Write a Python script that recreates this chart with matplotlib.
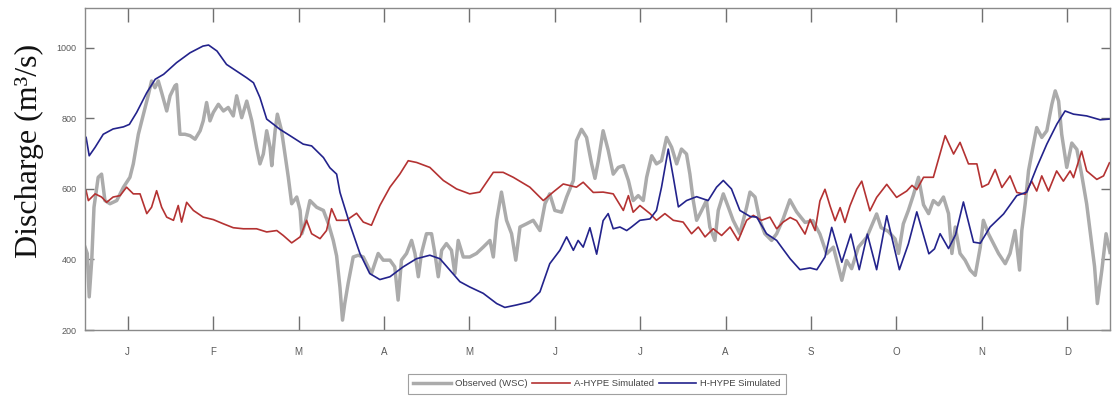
import matplotlib
matplotlib.use("Agg")
import matplotlib.pyplot as plt
import numpy as np

# ---------------- data (day of year, discharge m3/s) ----------------
month_labels = ["J", "F", "M", "A", "M", "J", "J", "A", "S", "O", "N", "D"]
y_ticks = [200, 400, 600, 800, 1000]

obs_day = [0, 0.8, 1.5, 2.4, 3.2, 4.7, 5.9, 7.1, 8.9, 11.3, 13.7, 16, 17.2, 19, 20.8, 22.6,
           23.7, 24.9, 26.1, 27.3, 29.1, 30.3, 32, 32.6, 33.8, 35.6, 37.4, 39.2, 41, 42.1,
           43.3, 44.5, 45.7, 47.5, 49.3, 51, 52.8, 54, 55.8, 57.6, 59.4, 61.1, 62.3, 63.5,
           64.7, 65.9, 66.5, 67.7, 68.5, 70, 71.2, 72.4, 73.6, 75.4, 76.6, 77.2, 78.3, 80.1,
           82.5, 84.9, 86.7, 88.4, 89.6, 90.8, 91.7, 92.5, 93.7, 95.5, 97.3, 99.1, 102, 104.4,
           106.2, 108.6, 110.3, 111.5, 112.7, 114.5, 116.3, 117.5, 118.7, 119.8, 121.6, 123.4,
           124.6, 125.8, 127, 128.7, 130.5, 131.7, 132.9, 134.7, 137, 139.4, 141.8, 144.2,
           145.4, 146.6, 148.3, 150.1, 151.9, 153.4, 154.9, 157.2, 159.6, 162, 163.8, 165.5,
           167.3, 169.7, 171.5, 173.9, 175, 176.8, 178.6, 180.4, 181.6, 182.8, 184.5, 186.3,
           188.1, 189.9, 191.7, 193.5, 195.2, 197, 198.8, 200, 201.8, 203.5, 205.3, 207.1,
           208.9, 210.7, 212.4, 214.2, 215.4, 216.6, 217.8, 219.6, 221.3, 222.5, 224.3, 225.5,
           227.3, 229.1, 230.8, 233.2, 235.6, 236.8, 238.6, 240.3, 242.1, 244.5, 246.3, 248.6,
           251, 253.4, 256.4, 259.2, 261.7, 264.1, 266.5, 269.5, 271.2, 273, 275.4, 278.4,
           281.9, 283.5, 286, 288.5, 289.7, 291.4, 293.2, 295, 296.8, 298.6, 300.4, 302.1,
           303.9, 305.7, 307.5, 308.7, 309.9, 311.6, 313.4, 315.2, 317, 318.8, 319.9, 321.7,
           323.5, 325.3, 327.7, 329.4, 331.2, 332.8, 333.6, 334.8, 336, 337.1, 338.9, 340.7,
           342.5, 344.3, 345.5, 346.7, 347.8, 349.6, 351.4, 353.2, 354.9, 356.7, 358.5, 359.5,
           360.5, 362.1, 363.6, 365]
obs_val = [435, 417, 294, 398, 548, 633, 642, 567, 558, 567, 605, 633, 671, 755, 812, 868,
           906, 887, 906, 873, 821, 864, 892, 896, 755, 755, 751, 741, 765, 793,
           845, 793, 817, 840, 821, 831, 807, 864, 802, 849, 793, 718, 671, 699,
           765, 718, 666, 765, 812, 765, 699, 633, 558, 577, 539, 473, 501, 567,
           548, 539, 501, 454, 410, 320, 228, 275, 332, 407, 412, 407, 360, 417,
           398, 398, 379, 285, 398, 417, 454, 417, 351, 417, 473, 473,
           417, 351, 426, 445, 426, 360, 454, 407, 407, 417, 435, 454,
           407, 511, 591, 511, 473, 398, 492, 501, 511, 482, 558, 586,
           539, 534, 577, 624, 737, 769, 746, 671, 630, 680, 765, 710,
           642, 661, 666, 624, 567, 581, 567, 633, 694, 671, 680, 746,
           718, 671, 713, 699, 642, 567, 511, 539, 567, 492, 454, 539,
           586, 548, 511, 473, 548, 591, 577, 511, 473, 454, 473, 515,
           569, 535, 505, 510, 472, 416, 435, 341, 397, 374, 435, 463,
           529, 490, 480, 458, 417, 501, 539, 583, 633, 555, 530, 567,
           555, 577, 530, 417, 492, 417, 398, 370, 355, 435, 511, 473,
           445, 417, 388, 417, 482, 370, 482, 558, 652, 699, 774, 746,
           765, 840, 878, 849, 755, 661, 730, 712, 641, 557, 444, 380,
           275, 370, 473, 420]

ahype_day = [0.4, 1.2, 3.6, 5.9, 7.7, 10, 12.5, 14.8, 17.2, 19.6, 22, 23.7, 25.5, 27.3, 29.1,
             31.5, 33.2, 34.4, 36.2, 38.6, 42.1, 45.7, 49.3, 52.8, 56.4, 61.1, 64.7, 68.3,
             70.6, 73.6, 76.6, 78.9, 80.7, 83.7, 86, 87.8, 89.6, 93.1, 96.7, 99.1, 102, 105,
             108.6, 112.1, 115.1, 118.1, 122.8, 127.6, 132.3, 137, 140.6, 145.4, 148.9, 152.5,
             158.4, 163.2, 166.7, 170.3, 175, 177.4, 181, 184.5, 188.1, 191.7, 193.5, 195.2,
             197.6, 201.2, 203.5, 206.5, 209.5, 213, 216, 218.4, 220.8, 223.7, 226.7, 229.7,
             232.6, 235.6, 238, 240.9, 243.9, 246.3, 248.6, 251.1, 253.4, 256.4, 258.2, 260,
             261.7, 263.5, 265.3, 267.1, 268.9, 270.6, 272.4, 274.8, 276.6, 279.5, 281.9,
             285.5, 289, 292.6, 294.5, 296.2, 298.6, 302.1, 306.3, 309.3, 311.6, 314.6, 317.6,
             319.4, 321.7, 324.1, 326.5, 329.4, 331.8, 334.8, 337.1, 338.9, 340.7, 343.1, 346,
             348.4, 350.8, 352, 354.9, 356.7, 360.3, 362.7, 364.8]
ahype_val = [595, 567, 586, 577, 562, 577, 581, 605, 586, 586, 530, 548, 595, 548, 520,
             511, 553, 506, 562, 539, 520, 513, 501, 490, 487, 487, 478, 482,
             468, 447, 464, 511, 473, 459, 482, 544, 511, 511, 531, 506, 497, 553,
             605, 642, 680, 675, 661, 624, 600, 586, 591, 647, 647, 633,
             605, 567, 591, 614, 605, 619, 590, 591, 586, 539, 581, 534,
             553, 530, 511, 530, 511, 506, 473, 492, 464, 487, 468, 492,
             454, 511, 525, 511, 520, 487, 506, 519, 510, 472, 514, 482,
             566, 599, 552, 510, 547, 505, 552, 599, 622, 538, 576,
             613, 576, 594, 610, 598, 633, 633, 751, 699, 732, 671, 671,
             605, 614, 655, 604, 637, 590, 585, 622, 594, 637, 594, 651,
             622, 651, 632, 707, 651, 627, 637, 674]

hhype_day = [0.4, 1.5, 3.6, 6.5, 10, 13.7, 15.8, 18.4, 22, 25, 28, 32.6, 37.4, 42, 44, 47,
             50.4, 54, 57.6, 60, 62.3, 64.7, 67, 69.4, 73, 77.7, 80.7, 84.9, 87.2, 89.6, 90.8,
             94.3, 97.9, 101.4, 105, 108.6, 113.3, 118, 122.8, 126.4, 129.9, 133.5, 137, 141.8,
             146.6, 149.5, 153.7, 158.4, 162, 165.5, 169.1, 171.5, 173.9, 175.6, 177.4, 179.8,
             182.2, 184.5, 186.3, 188.1, 190.5, 192.9, 194.6, 197.6, 201.2, 203.5, 205.3, 207.7,
             209.5, 211.3, 214.2, 217.8, 221.9, 224.9, 227.3, 230.2, 233.2, 236.8, 239.2, 242.7,
             246.3, 248.5, 251.1, 254.6, 258.2, 260.6, 263.5, 265.9, 269.5, 272.7, 275.7, 278.6,
             281.9, 285.5, 290, 293.2, 296.2, 300.5, 302.5, 304.5, 307.5, 310, 312.8, 316.4,
             318.8, 322.3, 327.1, 331.8, 335.4, 338.9, 342.5, 346.1, 349, 352, 356.7, 361.5,
             364.8]
hhype_val = [746, 694, 718, 755, 770, 776, 783, 817, 873, 911, 925, 958, 986, 1005, 1008, 991,
             953, 934, 915, 901, 859, 798, 784, 769, 751, 727, 722, 689, 660, 642, 590,
             500, 417, 360, 343, 351, 379, 402, 412, 402, 370, 337, 322, 304,
             275, 264, 271, 280, 308, 388, 426, 464, 426, 454, 435, 490,
             415, 510, 530, 487, 492, 482, 492, 511, 515, 539, 605, 713,
             633, 549, 567, 578, 567, 605, 624, 600, 539, 522, 520, 473,
             454, 430, 402, 371, 376, 371, 407, 491, 392, 472, 371, 472,
             371, 524, 371, 444, 535, 416, 430, 473, 431, 470, 563, 449,
             446, 492, 529, 581, 591, 661, 727, 784, 821, 812, 807, 796,
             798]

# ---------------- figure ----------------
W, H = 1117, 396
fig = plt.figure(figsize=(W / 100, H / 100), dpi=100)
ax = fig.add_axes([85 / W, 1 - 330 / H, (1110 - 85) / W, (330 - 8) / H])

c_obs = "#ababab"
c_a = "#b43232"
c_h = "#23238c"

ax.plot(obs_day, obs_val, color=c_obs, lw=2.5, label="Observed (WSC)", solid_joinstyle="round")
ax.plot(ahype_day, ahype_val, color=c_a, lw=1.2, label="A-HYPE Simulated")
ax.plot(hhype_day, hhype_val, color=c_h, lw=1.2, label="H-HYPE Simulated")

ax.set_xlim(0, 365)
ax.set_ylim(200, 1113)
month_len = 365 / 12
ax.set_xticks([(i + 0.5) * month_len for i in range(12)])
ax.set_xticklabels(month_labels)
ax.set_yticks(y_ticks)
ax.set_yticklabels([str(v) for v in y_ticks])

tick_col = "#707070"
for s in ax.spines.values():
    s.set_color("#8a8a8a")
    s.set_linewidth(1.0)
ax.tick_params(axis="x", direction="in", length=10, width=1, color=tick_col,
               top=True, bottom=True, labelsize=7, labelcolor="#5a5a5a", pad=12)
ax.tick_params(axis="y", direction="in", length=6.5, width=1, color=tick_col,
               left=True, right=True, labelsize=6.5, labelcolor="#5a5a5a", pad=6)
for lab in ax.get_xticklabels() + ax.get_yticklabels():
    lab.set_family("Liberation Sans")

ax.text(-0.054, 0.555, "Discharge (m³/s)", transform=ax.transAxes, rotation=90,
        ha="center", va="center", fontsize=23, family="Liberation Serif", color="#111111")

leg = fig.legend(loc="center", bbox_to_anchor=(597 / W, 1 - 384 / H), ncol=3,
                 frameon=True, fancybox=False, handlelength=4.0,
                 handletextpad=0.4, columnspacing=0.5, borderpad=0.55,
                 prop={"family": "Liberation Sans", "size": 6.8})
leg.get_frame().set_edgecolor("#888888")
leg.get_frame().set_linewidth(0.8)
for t in leg.get_texts():
    t.set_color("#444444")

fig.savefig("out.png", dpi=100)
